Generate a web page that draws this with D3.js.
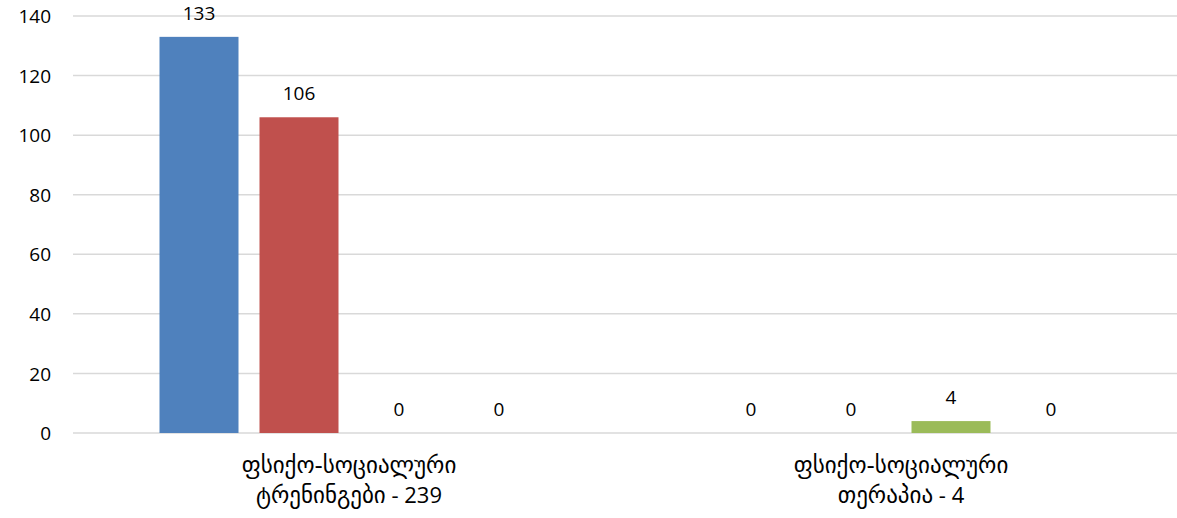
<!DOCTYPE html>
<html>
<head>
<meta charset="utf-8">
<script src="https://cdn.jsdelivr.net/npm/d3@7"></script>
<style>
html,body{margin:0;padding:0;background:#fff;}
svg{display:block;}
text{font-family:"Open Sans","DejaVu Sans",sans-serif;fill:#000;}
.geo{font-family:"DejaVu Sans","Open Sans",sans-serif;}
</style>
</head>
<body>
<svg id="chart" width="1177" height="518"></svg>
<script>
const categories = [
  ["ფსიქო-სოციალური", "ტრენინგები - 239"],
  ["ფსიქო-სოციალური", "თერაპია - 4"]
];
const seriesNames = ["s1", "s2", "s3", "s4"];
const seriesColors = ["#4F81BD", "#C0504D", "#9BBB59", "#8064A2"];
const values = [
  [133, 106, 0, 0],
  [0, 0, 4, 0]
];
const yTicks = [0, 20, 40, 60, 80, 100, 120, 140];

(function(){
const svg = d3.select("#chart");
const pL = 73, pR = 1177, pT = 16, pB = 433;

const y = d3.scaleLinear().domain([0, 140]).range([pB, pT]);
const x0 = d3.scaleBand().domain(d3.range(categories.length)).range([pL, pR]).paddingInner(0).paddingOuter(0);
const bw = x0.bandwidth();
const groupW = 379;
const x1 = d3.scaleBand().domain(seriesNames).range([(bw - groupW) / 2, (bw + groupW) / 2]).paddingInner(0.21).paddingOuter(0);

// gridlines
svg.append("g").selectAll("line").data(yTicks).join("line")
  .attr("x1", pL).attr("x2", pR)
  .attr("y1", d => y(d)).attr("y2", d => y(d))
  .attr("stroke", "#D9D9D9").attr("stroke-width", 1.5);

// y axis labels
const yAxis = d3.axisLeft(y).tickValues(yTicks).tickSize(0).tickPadding(0);
const ga = svg.append("g").attr("transform", `translate(51,0)`).call(yAxis);
ga.select(".domain").remove();
ga.selectAll("text").attr("font-size", 19).style("font-family", '"Open Sans","DejaVu Sans",sans-serif').attr("fill", "#000").attr("dy", "0.35em");

// bars
const groups = svg.append("g").selectAll("g").data(values).join("g")
  .attr("transform", (d, i) => `translate(${x0(i)},0)`);
groups.selectAll("rect").data(d => d.map((v, j) => ({v, j}))).join("rect")
  .attr("x", d => x1(seriesNames[d.j]))
  .attr("width", x1.bandwidth())
  .attr("y", d => y(d.v))
  .attr("height", d => y(0) - y(d.v))
  .attr("fill", d => seriesColors[d.j]);
groups.selectAll("text.lbl").data(d => d.map((v, j) => ({v, j}))).join("text")
  .attr("class", "lbl")
  .attr("x", d => x1(seriesNames[d.j]) + x1.bandwidth() / 2)
  .attr("y", d => y(d.v) - 24)
  .attr("dy", "0.35em")
  .attr("text-anchor", "middle")
  .attr("font-size", 19)
  .text(d => d.v);

// category labels (one text per line; Georgian part in a Georgian-capable font)
const lines = [];
categories.forEach((c, i) => c.forEach((t, k) => {
  const m = t.match(/^(.*?)(\s-\s\d+)?$/);
  lines.push({i, k, geo: m[1], rest: m[2] || ""});
}));
const lt = svg.append("g").selectAll("text").data(lines).join("text")
  .attr("text-anchor", "middle")
  .attr("x", d => x0(d.i) + bw / 2)
  .attr("y", d => 467 + d.k * 30)
  .attr("dy", "0.35em");
lt.append("tspan").attr("class", "geo").attr("font-size", 23).text(d => d.geo);
lt.append("tspan").attr("font-size", 22).text(d => d.rest.replace(/^\s/, "\u00a0"));
})();
</script>
</body>
</html>
